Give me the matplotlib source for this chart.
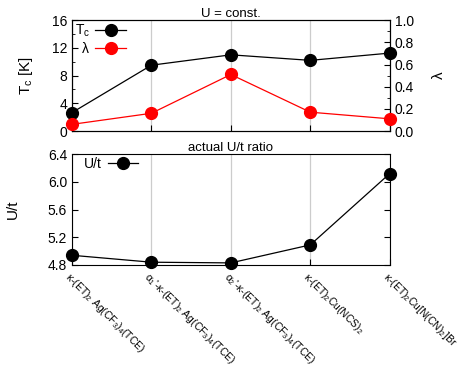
import matplotlib
matplotlib.use("Agg")
import matplotlib.pyplot as plt
from matplotlib.ticker import MultipleLocator

plt.rcParams["font.family"] = ["Liberation Sans", "DejaVu Sans"]
plt.rcParams["mathtext.fontset"] = "custom"
plt.rcParams["mathtext.rm"] = "Liberation Sans"
plt.rcParams["mathtext.it"] = "Liberation Sans"

# data
compounds = [
    r"$\kappa$-(ET)$_2$ Ag(CF$_3$)$_4$(TCE)",
    r"$\alpha_1$'-$\kappa$-(ET)$_2$ Ag(CF$_3$)$_4$(TCE)",
    r"$\alpha_2$'-$\kappa$-(ET)$_2$ Ag(CF$_3$)$_4$(TCE)",
    r"$\kappa$-(ET)$_2$Cu(NCS)$_2$",
    r"$\kappa$-(ET)$_2$Cu[N(CN)$_2$]Br",
]
tc = [2.65, 9.5, 11.0, 10.2, 11.25]
lam = [0.06, 0.16, 0.51, 0.17, 0.11]
u_over_t = [4.94, 4.84, 4.83, 5.09, 6.12]

x = list(range(len(compounds)))

fig = plt.figure(figsize=(4.64, 3.67), dpi=100)
ax1 = fig.add_axes([0.155, 0.643, 0.685, 0.302])
ax2 = fig.add_axes([0.155, 0.278, 0.685, 0.302])
ax1r = ax1.twinx()

for ax in (ax1, ax2):
    ax.set_xlim(0, len(x) - 1)
    ax.set_xticks(x)
    ax.grid(axis="x", color="#cccccc", linewidth=0.9)
    ax.tick_params(direction="in", labelsize=10, length=4)

l1, = ax1.plot(x, tc, "k-", marker="o", markersize=8.5, linewidth=0.9, label=r"T$_c$", clip_on=False, zorder=3)
l2, = ax1r.plot(x, lam, "r-", marker="o", markersize=8.5, linewidth=0.9, label=r"$\lambda$", clip_on=False, zorder=3)
ax1.set_ylim(0, 16)
ax1.yaxis.set_major_locator(MultipleLocator(4))
ax1.yaxis.set_minor_locator(MultipleLocator(2))
ax1r.set_ylim(0, 1)
ax1r.yaxis.set_major_locator(MultipleLocator(0.2))
ax1r.yaxis.set_minor_locator(MultipleLocator(0.1))
ax1r.tick_params(direction="in", labelsize=10, length=4)
ax1r.tick_params(which="minor", direction="in", length=2)
ax1.tick_params(which="minor", direction="in", length=2)
ax1.set_xticklabels([])
ax1.set_ylabel(r"T$_c$ [K]", fontsize=11, labelpad=12)
ax1r.set_ylabel(r"$\lambda$", fontsize=11, rotation=90, labelpad=12)
ax1.set_title("U = const.", fontsize=9.5, pad=2)
ax1.legend(handles=[l1, l2], loc="upper left", markerfirst=False, frameon=False,
           fontsize=10, handlelength=2.2, borderaxespad=0.1, labelspacing=0.1,
           borderpad=0.1, handletextpad=0.4)

ax2.plot(x, u_over_t, "k-", marker="o", markersize=8.5, linewidth=0.9, label="U/t", clip_on=False, zorder=3)
ax2.set_ylim(4.8, 6.4)
ax2.yaxis.set_major_locator(MultipleLocator(0.4))
ax2.tick_params(right=True)
ax2.set_ylabel("U/t", fontsize=11, labelpad=20)
ax2.set_title("actual U/t ratio", fontsize=9.5, pad=2)
ax2.legend(loc="upper left", markerfirst=False, frameon=False, fontsize=10,
           handlelength=2.2, borderaxespad=0.1, borderpad=0.1,
           handletextpad=0.4, bbox_to_anchor=(0.03, 1.0))
ax2.set_xticklabels(compounds, rotation=-45, ha="left", va="top",
                    rotation_mode="anchor", fontsize=7.5)

fig.savefig("out.png", dpi=100)
